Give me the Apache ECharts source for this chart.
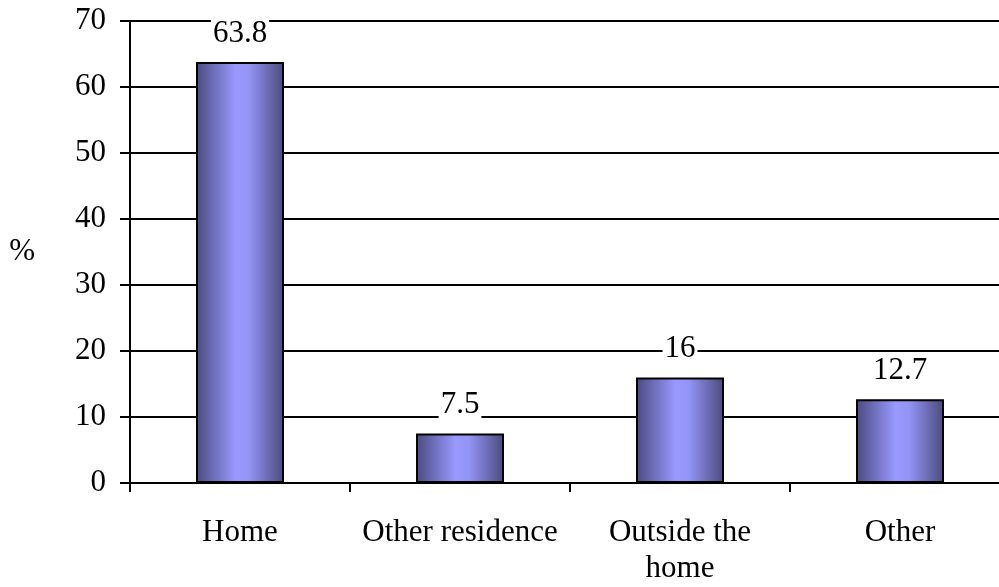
<!DOCTYPE html>
<html>
<head>
<meta charset="utf-8">
<script src="https://cdn.jsdelivr.net/npm/echarts@6/dist/echarts.min.js"></script>
<style>
  html, body { margin: 0; padding: 0; background: #fff; overflow: hidden; }
  /* the plot runs slightly past the right edge of the window */
  #chart { width: 1010px; height: 587px; }
</style>
</head>
<body>
<div id="chart"></div>
<script>
// Place where the event happened, percentage share
const categories = ['Home', 'Other residence', 'Outside the\nhome', 'Other'];
const shares = [63.8, 7.5, 16, 12.7];
const yTicks = { min: 0, max: 70, interval: 10 };

const FONT = '"Liberation Serif", "Times New Roman", serif';

// Horizontal shading: dark edges, bright lavender middle
const barFill = new echarts.graphic.LinearGradient(0, 0, 1, 0, [
  { offset: 0, color: '#4a4a80' },
  { offset: 0.45, color: '#9999ff' },
  { offset: 0.6, color: '#9494f6' },
  { offset: 1, color: '#4a4a7c' }
]);

const chart = echarts.init(document.getElementById('chart'), null, { renderer: 'canvas' });
chart.setOption({
  animation: false,
  backgroundColor: '#ffffff',
  grid: { left: 130, top: 21, right: 0, bottom: 103, containLabel: false },
  xAxis: {
    type: 'category',
    data: categories,
    axisLine: { show: true, lineStyle: { color: '#000', width: 2 } },
    axisTick: { show: true, alignWithLabel: false, length: 9, lineStyle: { color: '#000', width: 2 } },
    axisLabel: {
      color: '#000', fontFamily: FONT, fontSize: 31, margin: 32, lineHeight: 36, interval: 0
    },
    splitLine: { show: false }
  },
  yAxis: {
    type: 'value',
    min: yTicks.min, max: yTicks.max, interval: yTicks.interval,
    name: '%',
    nameLocation: 'middle',
    nameRotate: 0,
    nameGap: 95,
    nameTextStyle: { color: '#000', fontFamily: FONT, fontSize: 31 },
    axisLine: { show: true, lineStyle: { color: '#000', width: 2 } },
    axisTick: { show: true, inside: false, length: 10, lineStyle: { color: '#000', width: 2 } },
    axisLabel: { color: '#000', fontFamily: FONT, fontSize: 31, margin: 24 },
    splitLine: { show: true, lineStyle: { color: '#000', width: 2 } }
  },
  series: [{
    type: 'bar',
    data: shares,
    barWidth: 88,
    itemStyle: { color: barFill, borderColor: '#000', borderWidth: 2 },
    label: {
      show: true,
      position: 'top',
      distance: 9,
      color: '#000',
      fontFamily: FONT,
      fontSize: 31,
      backgroundColor: '#fff',
      padding: [0, 2, 4, 2]
    }
  }]
});
</script>
</body>
</html>
